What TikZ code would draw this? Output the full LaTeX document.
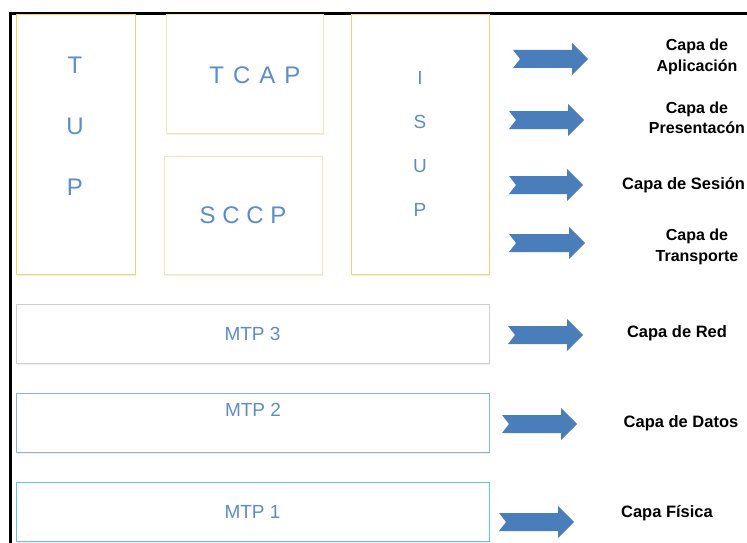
\documentclass[tikz,border=0pt]{standalone}
\usepackage{fontspec}
\setmainfont{Liberation Sans}
\usetikzlibrary{shadows}
\definecolor{txtblue}{HTML}{5B8DC8}
\definecolor{arrowblue}{HTML}{4A7EBB}
\definecolor{ylwA}{HTML}{F0D36A}
\definecolor{ylwB}{HTML}{F3E6B8}
\definecolor{ylwC}{HTML}{F0D27A}
\definecolor{grayB}{HTML}{CFCFCF}
\definecolor{blueB}{HTML}{8CB3D2}
\definecolor{cyanB}{HTML}{6CC3D8}
\newcommand\notcharrow[3]{%
  \fill[arrowblue] (#1,#3-9) -- (#2-16,#3-9) -- (#2-16,#3-16) -- (#2,#3)
    -- (#2-16,#3+16) -- (#2-16,#3+9) -- (#1,#3+9) -- (#1+7,#3) -- cycle;}
\tikzset{
  layerbox/.style={draw, line width=1pt, fill=white, inner sep=0pt,
    drop shadow={opacity=0.12, shadow xshift=0.8pt, shadow yshift=-1.5pt}},
  boxtxt/.style={text=txtblue, inner sep=0pt, align=center},
  lbl/.style={font=\bfseries\fontsize{16}{20.5}\selectfont, align=center, inner sep=0pt},
  lblone/.style={font=\bfseries\fontsize{16.5}{20}\selectfont, align=center, inner sep=0pt}
}
\begin{document}
\begin{tikzpicture}[x=1pt,y=-1pt]
\useasboundingbox (0,0) rectangle (747,543);
\fill[white] (0,0) rectangle (747,543);
% frame
\draw[line width=3pt] (10.5,543) -- (10.5,13.5) -- (747,13.5);
% boxes
\node[layerbox, draw=ylwA, minimum width=119pt, minimum height=259pt] (tup) at (75.5,144.5) {};
\node[boxtxt, font=\fontsize{24}{61}\selectfont] (tuptxt) at (75,126) {T\\U\\P};
\node[layerbox, draw=ylwB, minimum width=157pt, minimum height=118pt] (tcap) at (244.5,74) {};
\node[boxtxt, font=\fontsize{24}{28}\selectfont] (tcaptxt) at (255,75) {T\hspace{9pt}C\hspace{9pt}A\hspace{9pt}P};
\node[layerbox, draw=ylwB, minimum width=158pt, minimum height=118pt, boxtxt, font=\fontsize{24}{28}\selectfont] (sccp) at (243,215) {S C C P};
\node[layerbox, draw=ylwC, minimum width=138pt, minimum height=259pt] (isup) at (420,144.5) {};
\node[boxtxt, font=\fontsize{19}{44}\selectfont] (isuptxt) at (420,143.5) {I\\S\\U\\P};
\node[layerbox, draw=grayB, minimum width=473pt, minimum height=59pt, boxtxt, font=\fontsize{19}{23}\selectfont] (mtp3) at (252.5,333.5) {MTP 3};
\node[layerbox, draw=blueB, minimum width=473pt, minimum height=59pt] (mtp2) at (252.5,422.5) {};
\node[boxtxt, font=\fontsize{19}{23}\selectfont] (mtp2txt) at (253,410) {MTP 2};
\node[layerbox, draw=cyanB, minimum width=473pt, minimum height=59pt, boxtxt, font=\fontsize{19}{23}\selectfont] (mtp1) at (252.5,511.5) {MTP 1};
% arrows
\notcharrow{513}{588}{59}
\notcharrow{509}{584}{120}
\notcharrow{509}{583}{185}
\notcharrow{509}{585}{243}
\notcharrow{508}{583}{335}
\notcharrow{502}{577}{424}
\notcharrow{499}{574}{522}
% labels
\node[lbl] (l1) at (697,57) {Capa de\\Aplicación};
\node[lbl] (l2) at (697,118) {Capa de\\Presentacón};
\node[lblone, anchor=west] (l3) at (622,185) {Capa de Sesión};
\node[lbl] (l4) at (697,247) {Capa de\\Transporte};
\node[lblone] (l5) at (677,333) {Capa de Red};
\node[lblone] (l6) at (681,423) {Capa de Datos};
\node[lblone] (l7) at (667,513) {Capa Física};
\end{tikzpicture}
\end{document}
